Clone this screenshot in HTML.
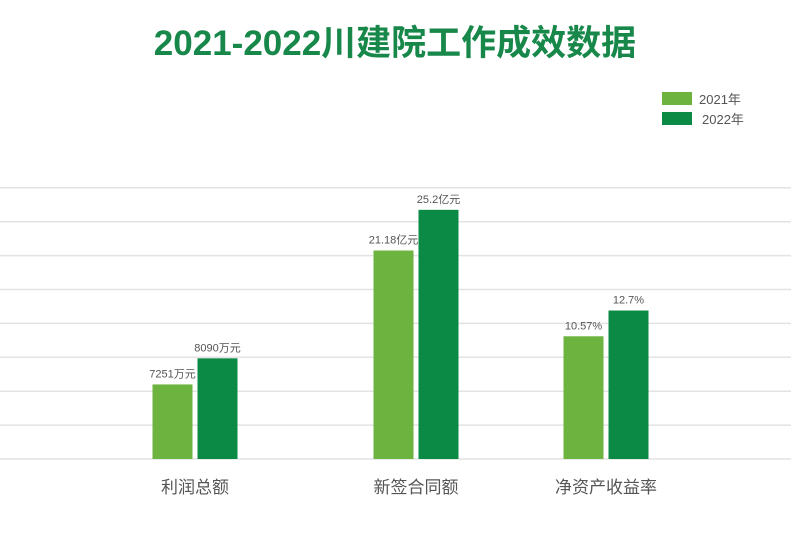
<!DOCTYPE html>
<html><head><meta charset="utf-8">
<style>
html,body{margin:0;padding:0;background:#fff;}
body{width:791px;height:528px;overflow:hidden;font-family:"Liberation Sans","Noto Sans CJK SC",sans-serif;}
</style></head>
<body>
<svg width="791" height="528" viewBox="0 0 791 528" xmlns="http://www.w3.org/2000/svg">
<text x="395" y="55" text-anchor="middle" font-size="35" font-weight="bold" fill="#17884a" font-family="Liberation Sans, Noto Sans CJK SC, sans-serif">2021-2022川建院工作成效数据</text>
<g>
<rect x="662" y="92" width="30" height="13" fill="#6db33f"/>
<text x="699" y="104" font-size="13" fill="#555">2021年</text>
<rect x="662" y="112" width="30" height="13" fill="#0b8a45"/>
<text x="702" y="124" font-size="13" fill="#555">2022年</text>
</g>
<g id="grid"></g>
<g id="bars"></g>
<g id="xlabels"></g>
</svg>
<script>
const categories = ["利润总额","新签合同额","净资产收益率"];
const values2021 = [2.2, 6.15, 3.62];
const values2022 = [2.97, 7.35, 4.38];
const labels2021 = ["7251万元","21.18亿元","10.57%"];
const labels2022 = ["8090万元","25.2亿元","12.7%"];
const gridTicks = [0,1,2,3,4,5,6,7,8];

const NS="http://www.w3.org/2000/svg";
const baseY=459, unit=33.9;
function y(v){return baseY - v*unit;}
const catCenter=[195,416,606];
function x(i){return catCenter[i];}
const barW=40, gap=5;

const grid=document.getElementById('grid');
gridTicks.forEach(t=>{
  const l=document.createElementNS(NS,'line');
  l.setAttribute('x1',0);l.setAttribute('x2',791);
  l.setAttribute('y1',y(t));l.setAttribute('y2',y(t));
  l.setAttribute('stroke','#e3e3e3');l.setAttribute('stroke-width','1.5');
  
  
  grid.appendChild(l);
});
const bars=document.getElementById('bars');
function addBar(i,v,lab,color,left,series){
  const r=document.createElementNS(NS,'rect');
  r.setAttribute('x',left);r.setAttribute('y',y(v));
  r.setAttribute('width',barW);r.setAttribute('height',baseY-y(v));
  r.setAttribute('fill',color);
  
  
  bars.appendChild(r);
  const t=document.createElementNS(NS,'text');
  t.setAttribute('x',left+barW/2);t.setAttribute('y',y(v)-7);
  t.setAttribute('text-anchor','middle');t.setAttribute('font-size','11');t.setAttribute('fill','#555');
  t.textContent=lab;
  
  
  bars.appendChild(t);
}
const xl=document.getElementById('xlabels');
categories.forEach((c,i)=>{
  addBar(i,values2021[i],labels2021[i],'#6db33f',x(i)-barW-gap/2,'2021');
  addBar(i,values2022[i],labels2022[i],'#0b8a45',x(i)+gap/2,'2022');
  const t=document.createElementNS(NS,'text');
  t.setAttribute('x',x(i));t.setAttribute('y',493);
  t.setAttribute('text-anchor','middle');t.setAttribute('font-size','17');t.setAttribute('fill','#555');
  t.textContent=c;
  
  
  xl.appendChild(t);
});
</script>
</body></html>
